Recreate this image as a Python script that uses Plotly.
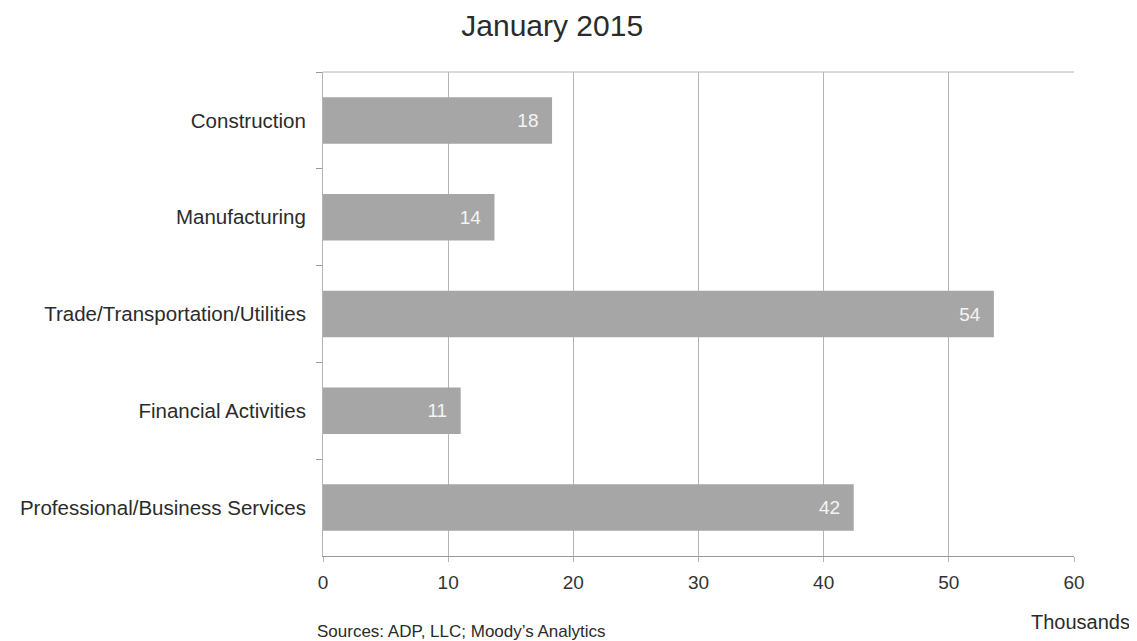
import plotly.graph_objects as go

categories = ["Construction", "Manufacturing", "Trade/Transportation/Utilities",
              "Financial Activities", "Professional/Business Services"]
values = [18.3, 13.7, 53.6, 11.0, 42.4]
x_ticks = [0, 10, 20, 30, 40, 50, 60]

FONT = "Liberation Sans, Arial, sans-serif"
GRID = "#b4b4b4"
TXT = "#2b2b2b"

fig = go.Figure(go.Bar(
    x=values, y=categories, orientation="h",
    marker=dict(color="#a6a6a6", line=dict(width=0)),
    width=0.48,
    text=values, texttemplate="%{x:.0f}\u00a0\u00a0", textposition="inside",
    insidetextanchor="end",
    textfont=dict(color="#f4f4f4", size=19, family=FONT),
))

fig.update_layout(
    width=1129, height=633,
    margin=dict(l=315, r=63, t=64, b=85),
    paper_bgcolor="white", plot_bgcolor="white",
    showlegend=False,
    title=dict(text="January 2015", x=0.482, xanchor="center", y=0.973, yanchor="middle",
               font=dict(size=30, color=TXT, family=FONT)),
    font=dict(family=FONT, color=TXT),
    xaxis=dict(range=[0, 60], tickvals=x_ticks, showgrid=True, gridcolor=GRID,
               gridwidth=1, zeroline=False, showline=True, linecolor="#999",
               mirror=False, ticks="outside", ticklen=5, tickcolor=GRID,
               tickfont=dict(size=19, color="#333"), ticklabelstandoff=4),
    yaxis=dict(autorange="reversed", showgrid=False, zeroline=False,
               showline=True, linecolor=GRID, ticks="outside", tickson="boundaries",
               ticklen=6, tickcolor="#999",
               tickfont=dict(size=20.5, color=TXT), ticklabelstandoff=12),
    shapes=[dict(type="line", xref="paper", yref="paper", x0=0, x1=1, y0=1, y1=1,
                 line=dict(color=GRID, width=1))],
    annotations=[
        dict(text="Thousands", x=1.009, xref="paper",
             y=-0.136, yref="paper", showarrow=False, xanchor="center", yanchor="middle",
             font=dict(size=20, color=TXT)),
        dict(text="Sources: ADP, LLC; Moody\u2019s Analytics", x=-0.0107, xref="paper",
             y=-0.157, yref="paper", showarrow=False, xanchor="left", yanchor="middle",
             font=dict(size=17, color=TXT)),
    ],
)

fig.write_html("out.html")
